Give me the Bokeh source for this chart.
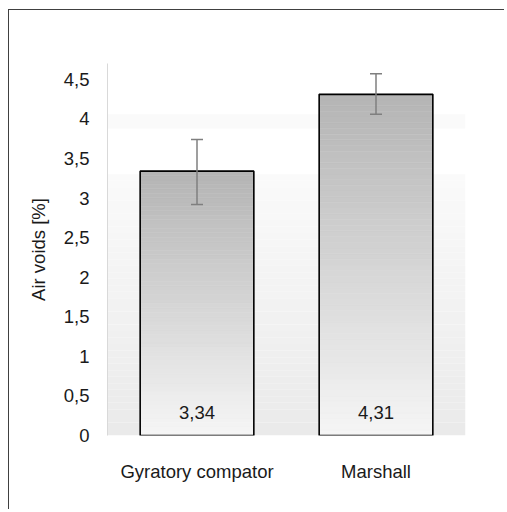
from bokeh.plotting import figure
from bokeh.models import FixedTicker, Whisker, TeeHead, ColumnDataSource, Range1d, BoxAnnotation
from bokeh.core.properties import value
from bokeh.embed import file_html
from bokeh.resources import INLINE

# ---- data ----
categories = ["Gyratory compator", "Marshall"]
air_voids = [3.34, 4.31]
err_upper = [3.74, 4.57]
err_lower = [2.92, 4.06]
value_labels = ["3,34", "4,31"]
yticks = [0, 0.5, 1, 1.5, 2, 2.5, 3, 3.5, 4, 4.5]
ytick_labels = ["0", "0,5", "1", "1,5", "2", "2,5", "3", "3,5", "4", "4,5"]

FONT = "Liberation Sans"
FS = "18.5px"

p = figure(x_range=categories, y_range=Range1d(0, 4.70),
           width=496, height=500, output_backend="svg", toolbar_location=None,
           min_border_left=98, min_border_right=40, min_border_top=53, min_border_bottom=75)
p.outline_line_color = None
p.background_fill_color = "white"
p.border_fill_color = "white"
p.styles = {"margin-left": "8px", "margin-top": "9px",
            "border-left": "1px solid #404040", "border-top": "1px solid #404040"}

# plot-area gradient background (light grey at bottom fading to white)
nb = 40
top_bg = 3.3
for i in range(nb):
    b0 = top_bg * i / nb
    b1 = top_bg * (i + 1) / nb
    f = i / (nb - 1)
    c = int(round(0xea + (0xfa - 0xea) * f))
    p.add_layout(BoxAnnotation(bottom=b0, top=b1, fill_color=(c, c, c), fill_alpha=1.0,
                               line_color=None, level="underlay"))
p.add_layout(BoxAnnotation(bottom=3.88, top=4.06, fill_color=(250, 250, 250), fill_alpha=1.0,
                           line_color=None, level="underlay"))

# bars with vertical gradient (darker at top)
BAR_W = 0.635
ns = 60
xs, bots, tops, cols = [], [], [], []
for cat, v in zip(categories, air_voids):
    for i in range(ns):
        f = (i + 0.5) / ns
        c = int(round(0xf6 + (0xb4 - 0xf6) * f))
        xs.append(cat)
        bots.append(v * i / ns)
        tops.append(v * (i + 1) / ns)
        cols.append("#%02x%02x%02x" % (c, c, c))
p.vbar(x=xs, bottom=bots, top=tops, width=BAR_W, fill_color=cols, line_color=cols, line_width=0.5)

# outline
p.vbar(x=categories, top=air_voids, width=BAR_W, fill_color=None,
       line_color="#000000", line_width=1.6)

# error bars
src = ColumnDataSource(data=dict(x=categories, upper=err_upper, lower=err_lower))
w = Whisker(base="x", upper="upper", lower="lower", source=src, level="overlay",
            line_color="#7f7f7f", line_width=1.5,
            upper_head=TeeHead(size=12, line_color="#7f7f7f", line_width=1.5),
            lower_head=TeeHead(size=12, line_color="#7f7f7f", line_width=1.5))
p.add_layout(w)

# value labels inside bars
p.text(x=categories, y=[0, 0], text=value_labels, text_align="center", text_baseline="alphabetic",
       y_offset=-23, text_font=value(FONT), text_font_size=FS, text_color="#1a1a1a")

# axes
p.xgrid.grid_line_color = None
p.ygrid.grid_line_color = None
p.yaxis.ticker = FixedTicker(ticks=yticks)
p.yaxis.major_label_overrides = {t: l for t, l in zip(yticks, ytick_labels)}
p.yaxis.axis_line_color = "#d9d9d9"
p.yaxis.major_tick_line_color = None
p.yaxis.minor_tick_line_color = None
p.yaxis.major_label_standoff = 12
p.yaxis.axis_label = "Air voids [%]"
p.yaxis.axis_label_standoff = 12
p.yaxis.axis_label_text_font_style = "normal"
p.xaxis.axis_line_color = None
p.xaxis.major_tick_line_color = None
p.xaxis.major_label_standoff = 19
for ax in (p.xaxis, p.yaxis):
    ax.major_label_text_font = FONT
    ax.major_label_text_font_size = FS
    ax.major_label_text_color = "#1a1a1a"
    ax.axis_label_text_font = FONT
    ax.axis_label_text_font_size = FS
    ax.axis_label_text_color = "#1a1a1a"

open("out.html", "w").write(file_html(p, INLINE))
